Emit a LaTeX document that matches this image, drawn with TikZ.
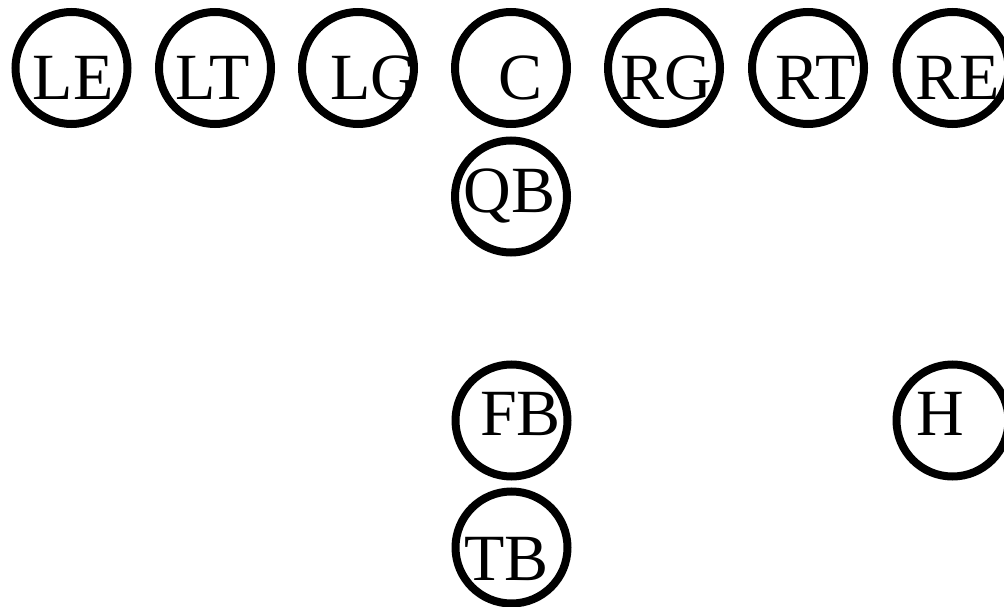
\documentclass[tikz,border=0pt]{standalone}
\usepackage{fontspec}
\setmainfont{Liberation Serif}
\usepackage{tikz}
\usetikzlibrary{calc}

\begin{document}
\begin{tikzpicture}[
		player/.style={draw,circle,line width=8pt,minimum size=112pt,inner sep=0pt},
		tag/.style={anchor=base,inner sep=0pt,font=\fontsize{66}{70}\selectfont}
	]
			\useasboundingbox (0,0) rectangle (1004pt,-607pt);
			
			%line
			\node[player] (le) at (71.5pt,-68pt) {};
			\node[player] (lt) at ($(le)+(143.5pt,0)$) {};
			\node[player] (lg) at ($(lt)+(143pt,0)$) {};
			\node[player] (c) at ($(lg)+(153pt,0)$) {};
			\node[player] (rg) at ($(c)+(153pt,0)$) {};
			\node[player] (rt) at ($(rg)+(144pt,0)$) {};
			\node[player] (re) at ($(rt)+(144.5pt,0)$) {};
			
			%backfield
			\node[player] (qb) at ($(c)+(0,-128.5pt)$) {};
			\node[player] (fb) at ($(qb)+(0.5pt,-224pt)$) {};
			\node[player] (tb) at ($(fb)+(0,-127pt)$) {};
			\node[player] (h) at ($(re)+(0,-352.5pt)$) {};
			
			%names
			\node[tag] (le-t) at ($(le)+(1.5pt,-32pt)$) {LE};
			\node[tag] (lt-t) at ($(lt)+(-2.5pt,-32pt)$) {LT};
			\node[tag] (lg-t) at ($(lg)+(16pt,-32pt)$) {LG};
			\node[tag] (c-t) at ($(c)+(10pt,-32pt)$) {C};
			\node[tag] (rg-t) at ($(rg)+(2.5pt,-32pt)$) {RG};
			\node[tag] (rt-t) at ($(rt)+(8pt,-32pt)$) {RT};
			\node[tag] (re-t) at ($(re)+(5pt,-32pt)$) {RE};
			\node[tag] (qb-t) at ($(qb)+(-1.5pt,-15.5pt)$) {QB};
			\node[tag] (fb-t) at ($(fb)+(9pt,-14.5pt)$) {FB};
			\node[tag] (tb-t) at ($(tb)+(-5pt,-32.5pt)$) {TB};
			\node[tag] (h-t) at ($(h)+(-12.5pt,-14.5pt)$) {H};
		\end{tikzpicture}
\end{document}
